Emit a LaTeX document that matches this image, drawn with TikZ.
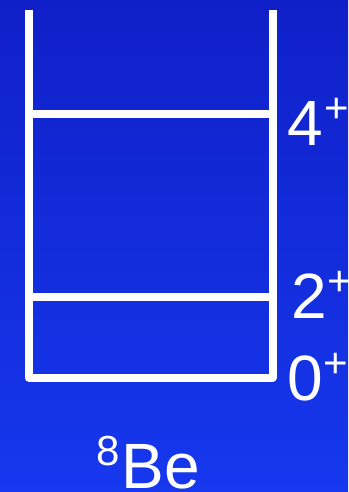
\documentclass[tikz,border=0pt]{standalone}
\usepackage{fontspec}
\setmainfont{Liberation Sans}
\newcommand\mysup[1]{\raisebox{23pt}{\fontsize{42}{42}\selectfont #1}}
\definecolor{bgtop}{RGB}{16,32,200}
\definecolor{bgbot}{RGB}{22,56,238}
\tikzset{
  wall/.style={white, line width=8pt, line join=round},
  level/.style={white, line width=8pt},
  lab/.style={text=white, inner sep=0pt, anchor=base west, font=\fontsize{64}{64}\selectfont}
}
\begin{document}
\begin{tikzpicture}[x=1pt,y=1pt]
\useasboundingbox (0,0) rectangle (348,-492);
\fill[top color=bgtop, bottom color=bgbot] (0,0) rectangle (348,-492);
\coordinate (tl) at (28.5,-10);
\coordinate (bl) at (28.5,-377.5);
\coordinate (br) at (272.5,-377.5);
\coordinate (tr) at (272.5,-10);
\coordinate (l4) at (28.5,-114);
\coordinate (r4) at (272.5,-114);
\coordinate (l2) at (28.5,-297);
\coordinate (r2) at (272.5,-297);
\draw[wall] (tl) -- (bl) -- (br) -- (tr);
\draw[level] (l4) -- (r4);
\draw[level] (l2) -- (r2);
\node[lab] (s4) at (287,-145) {4\mysup{\kern2pt+}};
\node[lab] (s2) at (291,-318) {2\mysup{\kern1pt+}};
\node[lab] (s0) at (287,-400) {0\mysup{\kern1pt+}};
\node[lab] (be) at (96,-488) {\mysup{8}\kern2pt Be};
\end{tikzpicture}
\end{document}
